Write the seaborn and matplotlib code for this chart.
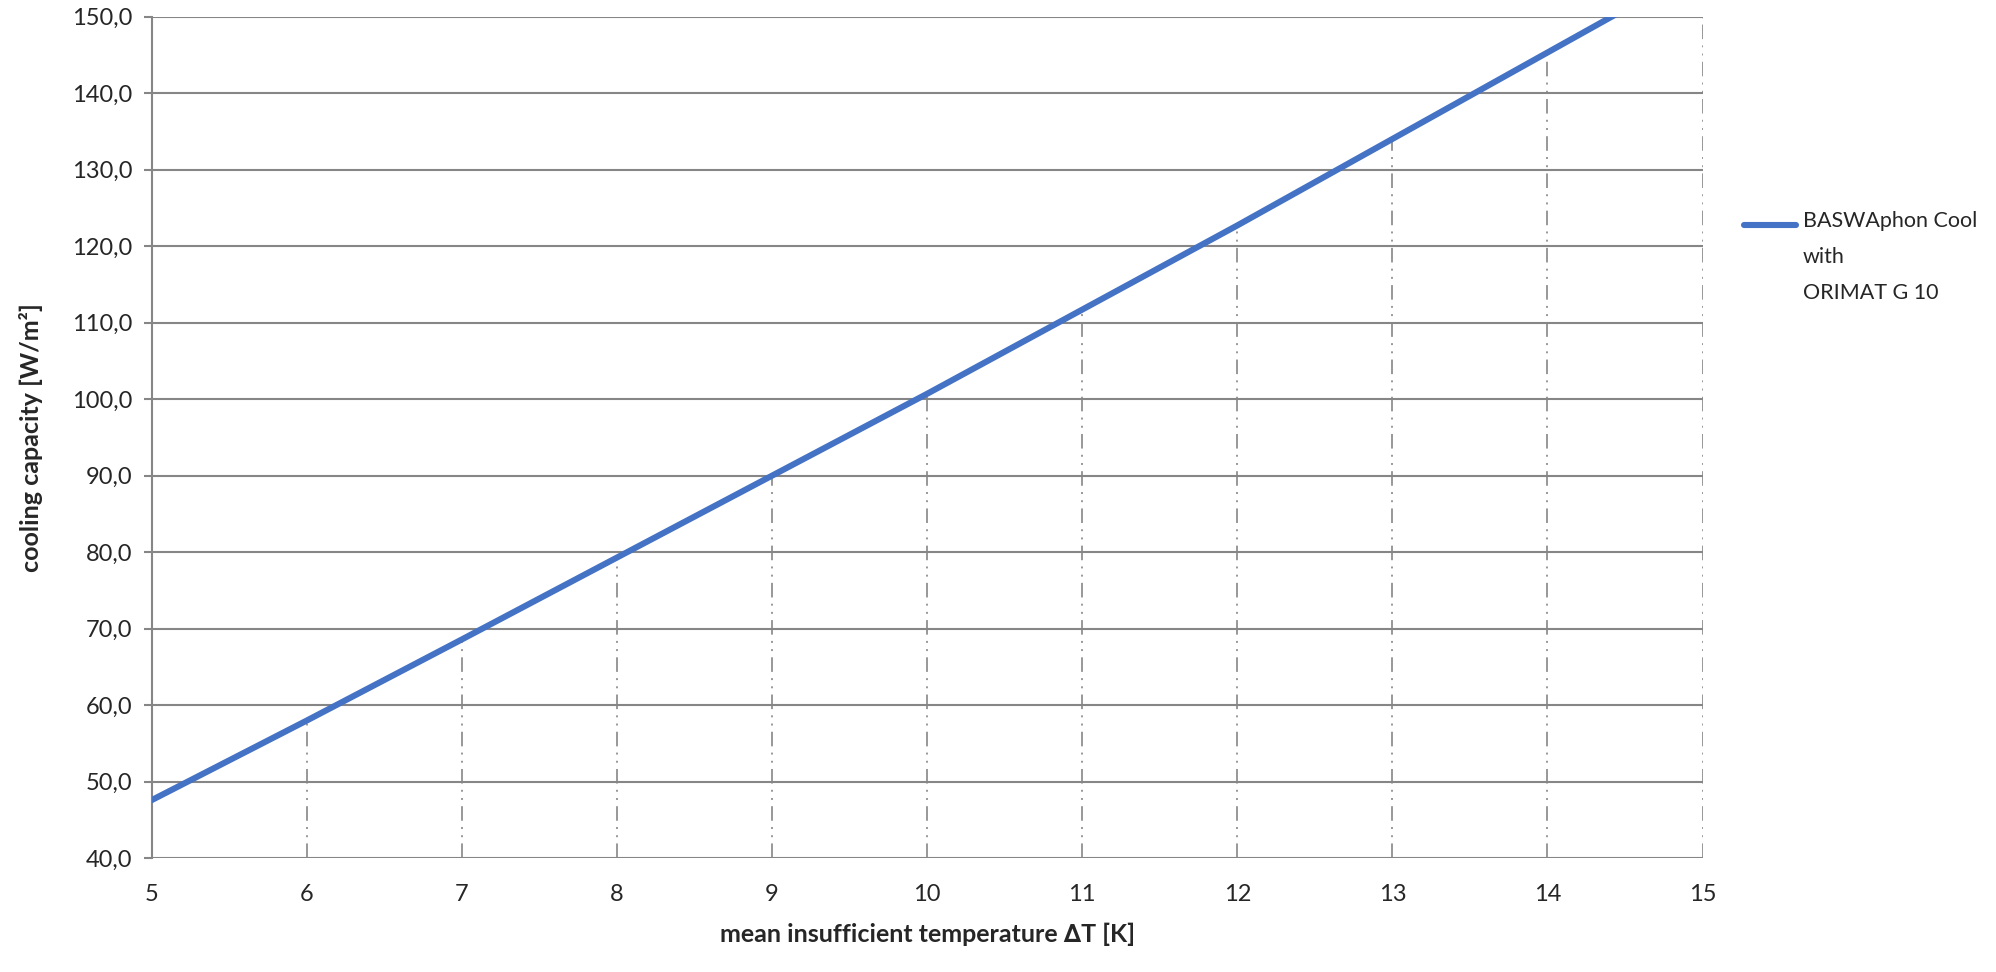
import numpy as np
import pandas as pd
import seaborn as sns
import matplotlib.pyplot as plt
from matplotlib.ticker import FuncFormatter, MultipleLocator

# values
delta_t = [5, 6, 7, 8, 9, 10, 11, 12, 13, 14, 15]
capacity = [47.6, 58.0, 68.6, 79.3, 90.0, 100.7, 111.7, 122.7, 134.0, 145.3, 156.6]
series_name = "BASWAphon Cool\nwith\nORIMAT G 10"
x_label = "mean insufficient temperature \u2206T [K]"
y_label = "cooling capacity [W/m\u00b2]"

df = pd.DataFrame({"dT": delta_t, "q": capacity})

sns.set_style("white")
plt.rcParams['font.family'] = ['Lato', 'DejaVu Sans']
plt.rcParams['lines.scale_dashes'] = False

fig = plt.figure(figsize=(19.96, 9.72), dpi=100)
ax = fig.add_axes([0.076, 0.117, 0.777, 0.866])

grey = "#868686"
ax.set_xlim(5, 15)
ax.set_ylim(40, 150)
ax.yaxis.set_major_locator(MultipleLocator(10))
ax.xaxis.set_major_locator(MultipleLocator(1))
ax.grid(axis="y", color=grey, linewidth=1.5, zorder=0)
ax.set_axisbelow(True)

# drop lines from the x axis up to the curve
ax.vlines(df["dT"], 40, np.minimum(df["q"], 150), colors=grey, linewidth=1.2,
          linestyles=[(0, (10.5, 4.5, 1.4, 4.5, 1.4, 4.5))], zorder=1)

sns.lineplot(data=df, x="dT", y="q", ax=ax, color="#4472C4", linewidth=4.4,
             label=series_name, zorder=3)

for s in ["top", "right", "bottom"]:
    ax.spines[s].set_visible(False)
ax.spines["left"].set_color(grey)
ax.spines["left"].set_linewidth(1.5)

ax.yaxis.set_major_formatter(FuncFormatter(lambda v, p: f"{v:.1f}".replace(".", ",")))
ax.tick_params(axis="y", left=True, length=6, width=1.5, color=grey, labelsize=17, pad=8)
ax.tick_params(axis="x", bottom=False, labelsize=17, pad=15)

ax.set_xlabel(x_label, fontsize=18, fontweight="bold", labelpad=13)
ax.set_ylabel(y_label, fontsize=18, fontweight="bold", labelpad=21)

leg = ax.legend(loc="center left", bbox_to_anchor=(1.027, 0.714), frameon=False,
                fontsize=15.5, handlelength=2.4, handletextpad=0.3, borderaxespad=0,
                borderpad=0)
txt = leg.get_texts()[0]
txt.set_linespacing(2.0)
# put the legend line next to the first text line, as in the reference
h = leg.legend_handles[0]
h.set_ydata(np.asarray(h.get_ydata()) + 23.5)

fig.savefig("out.png", dpi=100)
